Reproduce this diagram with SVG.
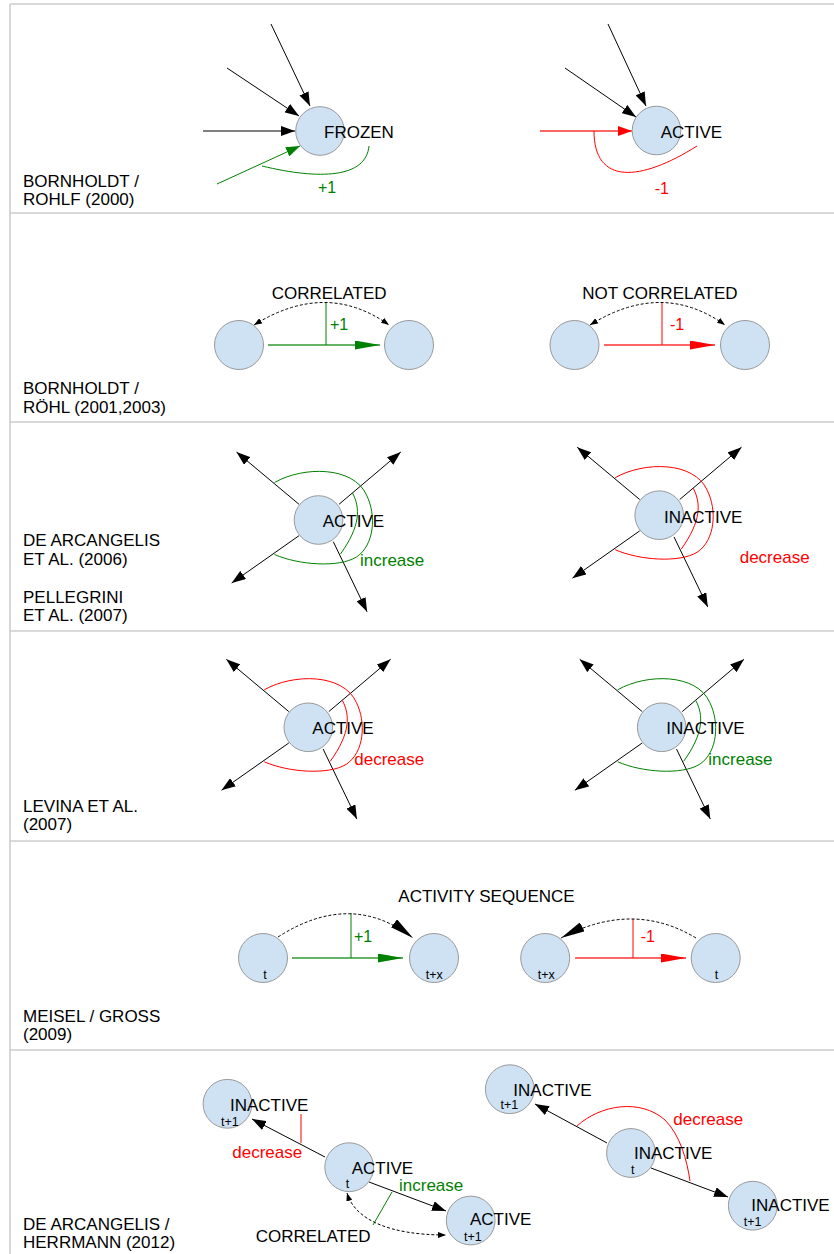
<svg xmlns="http://www.w3.org/2000/svg" width="834" height="1254" viewBox="0 0 834 1254">
<style>
.node{fill:#cfe2f3;stroke:#999;stroke-width:1}
text{font-family:"Liberation Sans",Arial,sans-serif;font-size:17px;fill:#000}
.sm{font-size:12.5px;text-anchor:middle}
.num{font-size:16px}
.g{fill:#008000}
.r{fill:#ff0000}
.frame{stroke:#cccccc;stroke-width:1.6;fill:none}
.blk{stroke:#000;stroke-width:1;fill:none}
.gl{stroke:#008000;stroke-width:1;fill:none}
.rl{stroke:#ff0000;stroke-width:1;fill:none}
.gh{stroke:#008000;stroke-opacity:.6;stroke-width:2;fill:none}
.rh{stroke:#ff0000;stroke-opacity:.6;stroke-width:2;fill:none}
.dot{stroke:#000;stroke-width:1;stroke-dasharray:3,2;fill:none}
</style>
<defs>
<marker id="ab" markerUnits="userSpaceOnUse" markerWidth="14" markerHeight="10" refX="14" refY="5" orient="auto"><path d="M0,0 L14,5 L0,10 z" fill="#000"/></marker>
<marker id="ag" markerUnits="userSpaceOnUse" markerWidth="14" markerHeight="10" refX="14" refY="5" orient="auto"><path d="M0,0 L14,5 L0,10 z" fill="#008000"/></marker>
<marker id="ar" markerUnits="userSpaceOnUse" markerWidth="14" markerHeight="10" refX="14" refY="5" orient="auto"><path d="M0,0 L14,5 L0,10 z" fill="#ff0000"/></marker>
<marker id="alg" markerUnits="userSpaceOnUse" markerWidth="25" markerHeight="9" refX="25" refY="4.5" orient="auto"><path d="M0,0 L25,4.5 L0,9 z" fill="#008000"/></marker>
<marker id="alr" markerUnits="userSpaceOnUse" markerWidth="25" markerHeight="9" refX="25" refY="4.5" orient="auto"><path d="M0,0 L25,4.5 L0,9 z" fill="#ff0000"/></marker>
<marker id="as" markerUnits="userSpaceOnUse" markerWidth="8" markerHeight="6" refX="8" refY="3" orient="auto-start-reverse"><path d="M0,0 L8,3 L0,6 z" fill="#000"/></marker>
<marker id="abig" markerUnits="userSpaceOnUse" markerWidth="24" markerHeight="10" refX="24" refY="5" orient="auto"><path d="M0,0 L24,5 L0,10 z" fill="#000"/></marker>
<path id="outer" d="M-44,-37.5 C-15,-54 35,-54 48,-25 C58,-5 56,25 38,37 C20,48 -20,45 -44,34.5"/>
<path id="inner" d="M34,-27 C42,-12 42,6 22,34"/>
<g id="star">
<line x1="-19.5" y1="-15.7" x2="-82" y2="-68" class="blk" marker-end="url(#ab)"/>
<line x1="20.5" y1="-15.7" x2="82.3" y2="-68" class="blk" marker-end="url(#ab)"/>
<line x1="-19.5" y1="15.7" x2="-86.8" y2="63" class="blk" marker-end="url(#ab)"/>
<line x1="14.8" y1="21.7" x2="48.6" y2="91.8" class="blk" marker-end="url(#ab)"/>
</g>
</defs>
<rect width="834" height="1254" fill="#fff"/>
<g id="frame" class="frame">
<line x1="10" y1="4" x2="10" y2="1254"/>
<line x1="10" y1="4" x2="834" y2="4"/>
<line x1="10" y1="213" x2="834" y2="213"/>
<line x1="10" y1="422" x2="834" y2="422"/>
<line x1="10" y1="631" x2="834" y2="631"/>
<line x1="10" y1="841" x2="834" y2="841"/>
<line x1="10" y1="1050" x2="834" y2="1050"/>
</g>
<g id="row-labels">
<text x="23" y="187">BORNHOLDT /</text><text x="23" y="205">ROHLF (2000)</text>
<text x="23" y="394">BORNHOLDT /</text><text x="23" y="412.5">RÖHL (2001,2003)</text>
<text x="23" y="546">DE ARCANGELIS</text><text x="23" y="564.5">ET AL. (2006)</text>
<text x="23" y="602.5">PELLEGRINI</text><text x="23" y="621">ET AL. (2007)</text>
<text x="23" y="811.5">LEVINA ET AL.</text><text x="23" y="830">(2007)</text>
<text x="23" y="1021.5">MEISEL / GROSS</text><text x="23" y="1040">(2009)</text>
<text x="23" y="1230">DE ARCANGELIS /</text><text x="23" y="1248">HERRMANN (2012)</text>
</g>
<g id="connectors">
<line x1="271" y1="24" x2="310" y2="106" class="blk" marker-end="url(#ab)"/>
<line x1="227" y1="68" x2="299" y2="116" class="blk" marker-end="url(#ab)"/>
<line x1="203" y1="131" x2="295" y2="131" class="blk" marker-end="url(#ab)"/>
<line x1="217" y1="184" x2="300" y2="146" class="gl" marker-end="url(#ag)"/>
<path d="M369,146 C366,178 320,180 262,166" class="gl"/>
<line x1="608" y1="24" x2="646" y2="106" class="blk" marker-end="url(#ab)"/>
<line x1="565" y1="68" x2="636" y2="117" class="blk" marker-end="url(#ab)"/>
<line x1="540" y1="131" x2="632" y2="131" class="rh" marker-end="url(#ar)"/>
<path d="M594,131 C594,185 640,182 697,146" class="rl"/>
<line x1="268" y1="345" x2="380" y2="345" class="gh" marker-end="url(#alg)"/>
<line x1="326" y1="302" x2="326" y2="345" class="gl"/>
<path d="M254,325 Q326,280 389,325" class="dot" marker-start="url(#as)" marker-end="url(#as)"/>
<line x1="604" y1="345" x2="715" y2="345" class="rh" marker-end="url(#alr)"/>
<line x1="662" y1="302" x2="662" y2="345" class="rl"/>
<path d="M590,325 Q662,280 725,325" class="dot" marker-start="url(#as)" marker-end="url(#as)"/>
<g transform="translate(318.5,520)"><use href="#star"/><use href="#outer" class="gl"/><use href="#inner" class="gl"/></g>
<g transform="translate(659.2,515.2)"><use href="#star"/><use href="#outer" class="rl"/><use href="#inner" class="rl"/></g>
<g transform="translate(308.3,727.3)"><use href="#star"/><use href="#outer" class="rl"/><use href="#inner" class="rl"/></g>
<g transform="translate(661.7,727.3)"><use href="#star"/><use href="#outer" class="gl"/><use href="#inner" class="gl"/></g>
<line x1="292" y1="958" x2="403" y2="958" class="gh" marker-end="url(#alg)"/>
<line x1="351" y1="913" x2="351" y2="958" class="gl"/>
<path d="M278,937 Q351,890 413,938" class="dot" marker-end="url(#abig)"/>
<line x1="575" y1="958" x2="686" y2="958" class="rh" marker-end="url(#alr)"/>
<line x1="633" y1="919" x2="633" y2="958" class="rl"/>
<path d="M696,938 Q633,900 561,938" class="dot" marker-end="url(#abig)"/>
<line x1="325" y1="1157" x2="252" y2="1119" class="blk" marker-end="url(#ab)"/>
<line x1="301" y1="1114" x2="301" y2="1143" class="rl"/>
<line x1="369" y1="1182" x2="446" y2="1211" class="blk" marker-end="url(#ab)"/>
<line x1="392" y1="1192" x2="373" y2="1225" class="gl"/>
<path d="M347,1193 C355,1220 390,1235 446,1235" class="dot" marker-start="url(#as)" marker-end="url(#as)"/>
<line x1="607" y1="1143" x2="535" y2="1104" class="blk" marker-end="url(#ab)"/>
<line x1="651" y1="1168" x2="728" y2="1197" class="blk" marker-end="url(#ab)"/>
<path d="M577,1126 C600,1105 640,1098 665,1120 C680,1135 687,1160 690,1181" class="rl"/>
</g>
<g id="edge-labels">
<text x="318" y="193" class="num g">+1</text>
<text x="654.7" y="194" class="num r">-1</text>
<text x="271.7" y="299">CORRELATED</text>
<text x="330" y="330" class="num g">+1</text>
<text x="582.3" y="299">NOT CORRELATED</text>
<text x="670" y="330" class="num r">-1</text>
<text x="360" y="565.5" class="g">increase</text>
<text x="739.7" y="563.3" class="r">decrease</text>
<text x="354.3" y="765" class="r">decrease</text>
<text x="708.3" y="765" class="g">increase</text>
<text x="398.3" y="901.7">ACTIVITY SEQUENCE</text>
<text x="354" y="942.3" class="num g">+1</text>
<text x="640.7" y="942.3" class="num r">-1</text>
<text x="232.3" y="1158.3" class="r">decrease</text>
<text x="399" y="1191" class="g">increase</text>
<text x="255.7" y="1241.7">CORRELATED</text>
<text x="673.3" y="1125" class="r">decrease</text>
</g>
<g id="n-frozen"><circle cx="320" cy="131" r="24.3" class="node"/><text x="324" y="138">FROZEN</text></g>
<g id="n-active1"><circle cx="656.5" cy="130.5" r="24.3" class="node"/><text x="660.7" y="137.7">ACTIVE</text></g>
<g id="n-p2a"><circle cx="239" cy="345" r="24.5" class="node"/></g>
<g id="n-p2b"><circle cx="409" cy="345" r="24.5" class="node"/></g>
<g id="n-p2c"><circle cx="574.5" cy="345" r="24.5" class="node"/></g>
<g id="n-p2d"><circle cx="745" cy="345" r="24.5" class="node"/></g>
<g id="n-p3a"><circle cx="318.5" cy="520" r="24.3" class="node"/><text x="322.7" y="527.3">ACTIVE</text></g>
<g id="n-p3b"><circle cx="659.2" cy="515.2" r="24.3" class="node"/><text x="664" y="522.7">INACTIVE</text></g>
<g id="n-p4a"><circle cx="308.3" cy="727.3" r="24.3" class="node"/><text x="312.3" y="734.3">ACTIVE</text></g>
<g id="n-p4b"><circle cx="661.7" cy="727.3" r="24.3" class="node"/><text x="666.3" y="734.3">INACTIVE</text></g>
<g id="n-p5a"><circle cx="263" cy="958" r="24.5" class="node"/><text x="265" y="979" class="sm">t</text></g>
<g id="n-p5b"><circle cx="434" cy="958" r="24.5" class="node"/><text x="434.3" y="979" class="sm">t+x</text></g>
<g id="n-p5c"><circle cx="545.2" cy="958" r="24.5" class="node"/><text x="546.2" y="979" class="sm">t+x</text></g>
<g id="n-p5d"><circle cx="715.7" cy="958" r="24.5" class="node"/><text x="716.5" y="979" class="sm">t</text></g>
<g id="n-p6a"><circle cx="227.5" cy="1103.8" r="24.4" class="node"/><text x="230" y="1111">INACTIVE</text><text x="229.8" y="1125.7" class="sm">t+1</text></g>
<g id="n-p6b"><circle cx="349.2" cy="1167.2" r="24.4" class="node"/><text x="351.7" y="1174">ACTIVE</text><text x="347.5" y="1188.3" class="sm">t</text></g>
<g id="n-p6c"><circle cx="470.7" cy="1220.5" r="24.4" class="node"/><text x="470" y="1225">ACTIVE</text><text x="472.8" y="1241" class="sm">t+1</text></g>
<g id="n-p6d"><circle cx="509.8" cy="1089.2" r="24.4" class="node"/><text x="513.3" y="1096">INACTIVE</text><text x="509.3" y="1109.3" class="sm">t+1</text></g>
<g id="n-p6e"><circle cx="631" cy="1153" r="24.4" class="node"/><text x="634" y="1159.3">INACTIVE</text><text x="632.8" y="1174.3" class="sm">t</text></g>
<g id="n-p6f"><circle cx="752.8" cy="1205.7" r="24.4" class="node"/><text x="751.3" y="1211">INACTIVE</text><text x="752.7" y="1226" class="sm">t+1</text></g>
</svg>
